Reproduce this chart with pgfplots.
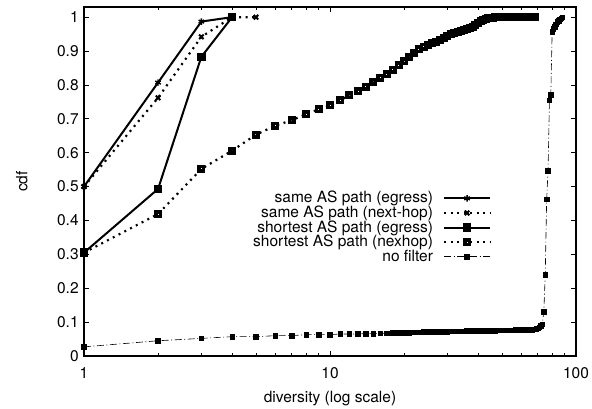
\documentclass[border=0pt]{standalone}
\usepackage{fontspec}
\setmainfont{TeX Gyre Heros}
\usepackage{pgfplots}
\pgfplotsset{compat=1.18}
\usepackage{pgfplotstable}

% diversity vs cdf
\pgfplotstableread{
x y
1 0.305
2 0.419
3 0.552
4 0.606
5 0.653
6 0.680
7 0.696
8 0.714
9 0.728
10 0.740
11 0.755
12 0.769
13 0.782
14 0.794
15 0.809
16 0.821
17 0.832
18 0.845
19 0.858
20 0.870
21 0.883
22 0.895
23 0.905
24 0.913
25 0.919
26 0.923
27 0.927
28 0.933
29 0.939
30 0.944
31 0.949
32 0.953
33 0.957
34 0.960
35 0.963
36 0.966
37 0.969
38 0.972
39 0.978
40 0.984
41 0.989
42 0.993
43 0.996
44 0.997
45 0.998
46 0.998
47 0.999
48 0.999
49 0.999
50 0.999
51 0.999
52 0.999
53 0.999
54 0.999
55 0.999
56 1.0
57 1.0
58 1.0
59 1.0
60 1.0
61 1.0
62 1.0
63 1.0
64 1.0
65 1.0
66 1.0
67 1.0
68 1.0
}\nexhop

\pgfplotstableread{
x y
1 0.027
2 0.045
3 0.052
4 0.057
5 0.057
6 0.060
7 0.060
8 0.063
9 0.063
10 0.063
11 0.065
12 0.065
13 0.065
14 0.066
15 0.066
16 0.067
17 0.067
18 0.068
19 0.068
20 0.069
21 0.069
22 0.070
23 0.070
24 0.071
25 0.071
26 0.071
27 0.072
28 0.072
29 0.072
30 0.072
31 0.073
32 0.073
33 0.073
34 0.073
35 0.073
36 0.074
37 0.074
38 0.074
39 0.074
40 0.074
41 0.075
42 0.075
43 0.075
44 0.075
45 0.075
46 0.075
47 0.075
48 0.076
49 0.076
50 0.076
51 0.076
52 0.076
53 0.076
54 0.076
55 0.076
56 0.076
57 0.077
58 0.077
59 0.077
60 0.077
61 0.077
62 0.077
63 0.078
64 0.078
65 0.078
66 0.078
67 0.079
68 0.079
69 0.080
70 0.082
71 0.085
72 0.089
73 0.094
74 0.131
75 0.240
76 0.463
77 0.546
78 0.755
79 0.770
80 0.957
81 0.965
82 0.971
83 0.979
84 0.986
85 0.990
86 0.994
87 0.997
88 1.0
}\nofilter

\begin{document}
\fontsize{15.5}{17}\selectfont
\begin{tikzpicture}
\begin{axis}[
    at={(0pt,0pt)}, anchor=south west,
    scale only axis, width=492pt, height=349pt,
    xmode=log, xmin=1, xmax=100, ymin=0, ymax=1.03,
    xtick={1,10,100}, xticklabels={1,10,100},
    ytick={0,0.1,0.2,0.3,0.4,0.5,0.6,0.7,0.8,0.9,1},
    yticklabels={0,0.1,0.2,0.3,0.4,0.5,0.6,0.7,0.8,0.9,1},
    tick align=inside, major tick length=5pt, minor tick length=3pt,
    axis line style={line width=1.3pt},
    every tick/.style={line width=0.8pt, black},
    tick label style={font=\fontsize{15.5}{17}\selectfont},
    xticklabel style={yshift=-6pt},
    /pgf/number format/assume math mode=true,
    xlabel={diversity (log scale)}, ylabel={cdf},
    label style={font=\fontsize{15.5}{17}\selectfont},
    xlabel style={yshift=-2pt},
    ylabel style={yshift=19pt},
    legend cell align=right, legend plot pos=right,
    legend style={draw=none, fill=none, at={(0.828,0.478)}, anchor=north east,
        font=\fontsize{15.5}{17}\selectfont, row sep=-3.3pt, column sep=8pt, inner sep=0pt},
    legend image code/.code={\draw[mark repeat=2,mark phase=2] plot coordinates {(0pt,0pt) (23pt,0pt) (46pt,0pt)};},
]
\addplot[black, line width=2pt, mark=asterisk, mark size=3.2pt, mark options={solid, line width=1.4pt}]
  coordinates {(1,0.5) (2,0.807) (3,0.987) (4,1.0)};
\addlegendentry{same AS path (egress)}
\addplot[black, line width=2.2pt, dash pattern=on 2pt off 4.5pt, mark=x, mark size=3.2pt, mark options={solid, line width=2pt}]
  coordinates {(1,0.5) (2,0.762) (3,0.942) (4,1.0) (5,1.0)};
\addlegendentry{same AS path (next-hop)}
\addplot[black, line width=2pt, mark=square*, mark size=3.2pt, mark options={solid}]
  coordinates {(1,0.305) (2,0.493) (3,0.883) (4,1.0)};
\addlegendentry{shortest AS path (egress)}
\addplot[black, line width=2.2pt, dash pattern=on 2pt off 4.5pt, mark=square, mark size=2.25pt, mark options={solid, line width=3.5pt}]
  table[x=x, y=y] {\nexhop};
\addlegendentry{shortest AS path (nexhop)}
\addplot[black, line width=0.6pt, dash pattern=on 7pt off 2.5pt on 1pt off 2.5pt, mark=square*, mark size=2.3pt, mark options={solid}]
  table[x=x, y=y] {\nofilter};
\addlegendentry{no filter}
\end{axis}
\pgfresetboundingbox
\path (-84pt,-53pt) rectangle (508pt,356pt);
\end{tikzpicture}
\end{document}
